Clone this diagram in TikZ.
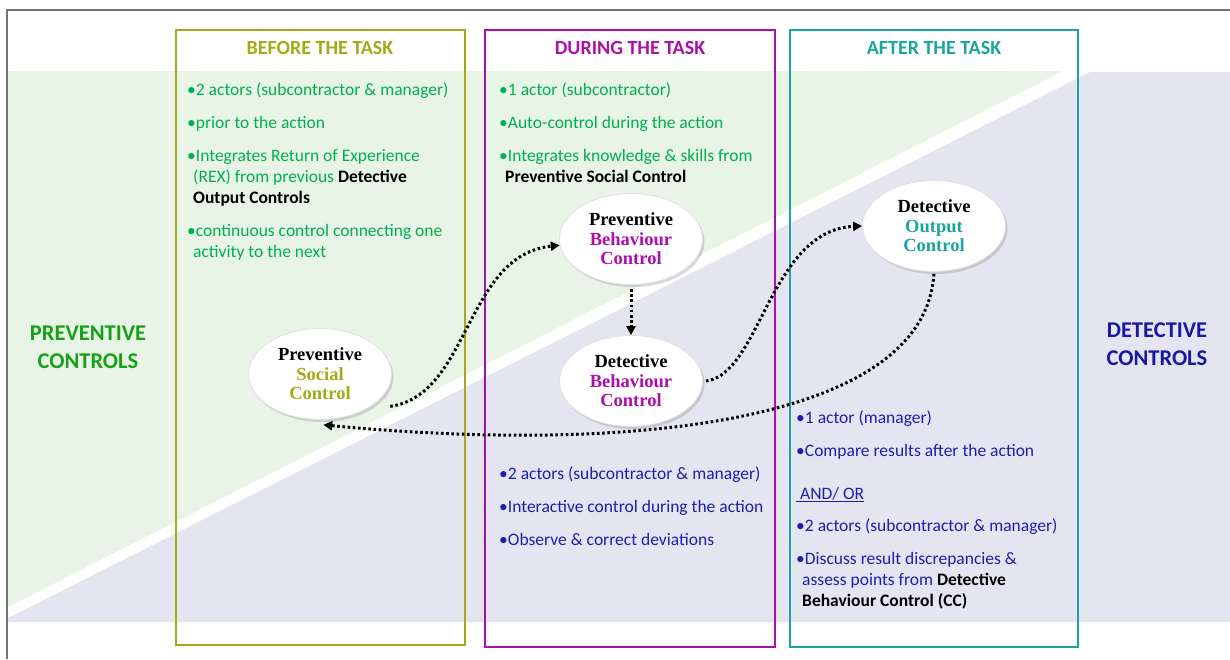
\documentclass[tikz,border=0pt]{standalone}
\usepackage{fontspec}
\setmainfont{Carlito}
\newfontfamily\serifbold{Liberation Serif}
\usetikzlibrary{shapes.geometric,arrows.meta,shadows}
\definecolor{olivec}{RGB}{163,170,24}
\definecolor{magc}{RGB}{172,16,172}
\definecolor{tealc}{RGB}{26,166,160}
\definecolor{prevg}{RGB}{24,160,24}
\definecolor{detb}{RGB}{24,24,160}
\definecolor{bodyg}{RGB}{0,176,80}
\definecolor{bodyb}{RGB}{30,30,172}
\definecolor{bggreen}{RGB}{232,245,230}
\definecolor{bglav}{RGB}{229,229,242}
\begin{document}
\begin{tikzpicture}[x=1pt,y=-1pt,
  head/.style={font=\bfseries\fontsize{20}{24}\selectfont, inner sep=0},
  side/.style={font=\bfseries\fontsize{22.5}{27}\selectfont, inner sep=0},
  body/.style={font=\fontsize{17.5}{21}\selectfont, anchor=base west, inner sep=0},
  ell/.style={ellipse, fill=white, draw=black!12, line width=0.8pt,
    minimum width=143pt, minimum height=91pt, inner sep=0pt, align=center,
    font=\serifbold\bfseries\fontsize{18.5}{19.5}\selectfont,
    drop shadow={opacity=0.3, shadow xshift=2pt, shadow yshift=-2.5pt}},
  conn/.style={line width=3pt, dash pattern=on 2.6pt off 2.6pt,
    -{Triangle[length=9pt,width=9pt]}}
]
\useasboundingbox (0,0) rectangle (1230,659);
% background regions
\fill[bggreen] (8,71) -- (1063,71) -- (8,607) -- cycle;
\fill[bglav] (1090,72) -- (1230,72) -- (1230,622) -- (8,622) -- (8,618) -- cycle;
% frame
\draw[black!55, line width=1.4pt] (7,659) -- (7,10) -- (1230,10);
% column boxes
\draw[olivec, line width=2pt] (176,30) rectangle (465,645);
\draw[magc, line width=2pt] (485,30) rectangle (775,647);
\draw[tealc, line width=2pt] (790,30) rectangle (1078,647);
% headings
\node[head, text=olivec] (hb) at (320,48) {BEFORE THE TASK};
\node[head, text=magc] (hd) at (630,48) {DURING THE TASK};
\node[head, text=tealc] (ha) at (934,48) {AFTER THE TASK};
% side labels
\node[side, text=prevg] (pv1) at (88,333) {PREVENTIVE};
\node[side, text=prevg] (pv2) at (88,361) {CONTROLS};
\node[side, text=detb] (dt1) at (1157,330) {DETECTIVE};
\node[side, text=detb] (dt2) at (1157,358) {CONTROLS};
% before box text
\node[body, text=bodyg] (b1) at (187,95) {•2 actors (subcontractor \& manager)};
\node[body, text=bodyg] (b2) at (187,128) {•prior to the action};
\node[body, text=bodyg] (b3) at (187,161) {•Integrates Return of Experience};
\node[body, text=bodyg] (b4) at (193,182) {(REX) from previous \textcolor{black}{\textbf{Detective}}};
\node[body, text=black] (b5) at (193,203) {\textbf{Output Controls}};
\node[body, text=bodyg] (b6) at (187,236) {•continuous control connecting one};
\node[body, text=bodyg] (b7) at (193,257) {activity to the next};
% during box text (top)
\node[body, text=bodyg] (d1) at (499,95) {•1 actor (subcontractor)};
\node[body, text=bodyg] (d2) at (499,128) {•Auto-control during the action};
\node[body, text=bodyg] (d3) at (499,161) {•Integrates knowledge \& skills from};
\node[body, text=black] (d4) at (505,182) {\textbf{Preventive Social Control}};
% during box text (bottom)
\node[body, text=bodyb] (d5) at (499,479) {•2 actors (subcontractor \& manager)};
\node[body, text=bodyb] (d6) at (499,512) {•Interactive control during the action};
\node[body, text=bodyb] (d7) at (499,545) {•Observe \& correct deviations};
% after box text
\node[body, text=bodyb] (a1) at (796,423) {•1 actor (manager)};
\node[body, text=bodyb] (a2) at (796,456) {•Compare results after the action};
\node[body, text=bodyb] (a3) at (796,499) {\underline{\ AND/ OR}};
\node[body, text=bodyb] (a4) at (796,531) {•2 actors (subcontractor \& manager)};
\node[body, text=bodyb] (a5) at (796,564) {•Discuss result discrepancies \&};
\node[body, text=bodyb] (a6) at (802,585) {assess points from \textcolor{black}{\textbf{Detective}}};
\node[body, text=black] (a7) at (802,606) {\textbf{Behaviour Control (CC)}};
% ellipses
\node[ell] (psc) at (320,374) {Preventive\\\textcolor{olivec}{Social}\\\textcolor{olivec}{Control}};
\node[ell] (pbc) at (631,239) {Preventive\\\textcolor{magc}{Behaviour}\\\textcolor{magc}{Control}};
\node[ell] (dbc) at (631,381) {Detective\\\textcolor{magc}{Behaviour}\\\textcolor{magc}{Control}};
\node[ell] (doc) at (934,226) {Detective\\\textcolor{tealc}{Output}\\\textcolor{tealc}{Control}};
% connectors
\draw[conn] ([shift={(15,3)}]psc.-28) .. controls (470,395) and (465,255) .. (pbc.185);
\draw[conn, shorten <=4pt] (pbc.south) -- (dbc.north);
\draw[conn] ([xshift=3pt]dbc.east) .. controls (760,375) and (770,230) .. (doc.west);
\draw[conn, shorten <=2pt] (doc.south) .. controls (925,420) and (640,455) .. ([yshift=-5pt]psc.-86);
\end{tikzpicture}
\end{document}
